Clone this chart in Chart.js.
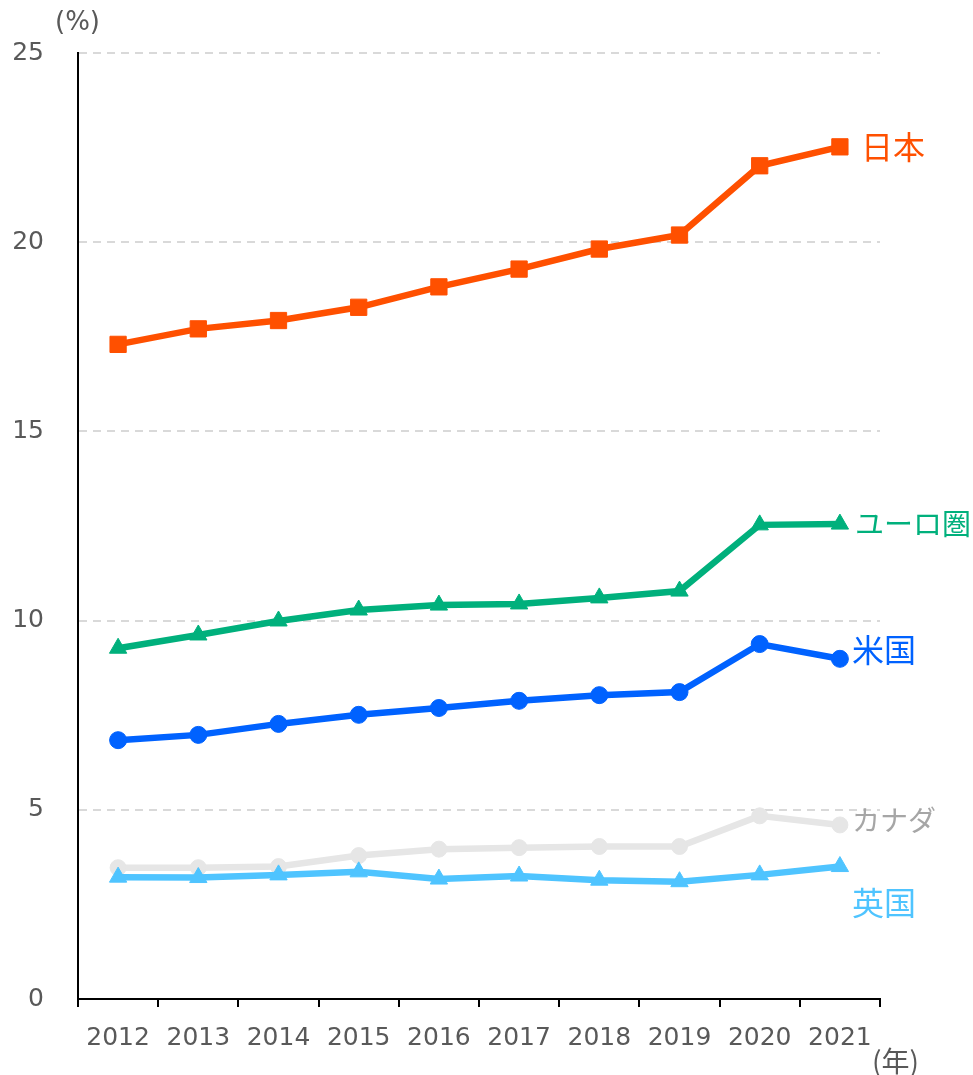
<!DOCTYPE html>
<html lang="ja">
<head>
<meta charset="utf-8">
<script src="https://cdn.jsdelivr.net/npm/chart.js@4.4.1/dist/chart.umd.min.js"></script>
<style>
  html, body { margin: 0; padding: 0; background: #fff; }
  #wrap { width: 973px; height: 1075px; position: relative; }
</style>
</head>
<body>
<div id="wrap"><canvas id="chart"></canvas></div>
<script>
// years on the x axis
const years = ['2012', '2013', '2014', '2015', '2016', '2017', '2018', '2019', '2020', '2021'];

// series values (%)
const japan  = [17.30, 17.71, 17.93, 18.28, 18.82, 19.29, 19.82, 20.19, 22.02, 22.52];
const euro   = [9.27, 9.62, 9.99, 10.28, 10.41, 10.44, 10.60, 10.78, 12.53, 12.55];
const us     = [6.84, 6.98, 7.27, 7.51, 7.69, 7.88, 8.03, 8.11, 9.38, 8.99];
const uk     = [3.22, 3.21, 3.28, 3.36, 3.17, 3.25, 3.14, 3.10, 3.28, 3.50];
const canada = [3.47, 3.47, 3.50, 3.79, 3.96, 4.00, 4.03, 4.03, 4.84, 4.60];

const seriesNames = ['日本', 'ユーロ圏', '米国', '英国', 'カナダ'];
const yTicks = [0, 5, 10, 15, 20, 25];

const TICK_FONT = '"DejaVu Sans", Verdana, sans-serif';
const CJK_FONT = '"Noto Sans CJK JP", "Noto Sans", sans-serif';

// end-of-line label placement (offset from last point) and size
const labelStyle = [
    { color: '#FF5000', dx: 21, dy: 0, size: 32 },
    { color: '#00B07C', dx: 15, dy: 0, size: 29 },
    { color: '#0062FF', dx: 12, dy: -9, size: 32 },
    { color: '#4FC4FF', dx: 12, dy: 36, size: 32 },
    { color: '#A6A6A6', dx: 12, dy: -5, size: 28 }
];

Chart.register({
    id: 'endLabels',
    afterDatasetsDraw(chart) {
        const { ctx } = chart;
        ctx.save();
        ctx.textAlign = 'left';
        ctx.textBaseline = 'middle';
        chart.data.datasets.forEach((ds, i) => {
            const meta = chart.getDatasetMeta(i);
            const pt = meta.data[meta.data.length - 1];
            const st = labelStyle[i];
            ctx.font = st.size + 'px ' + CJK_FONT;
            ctx.fillStyle = st.color;
            ctx.fillText(ds.label, pt.x + st.dx, pt.y + st.dy);
        });

        // unit captions
        ctx.fillStyle = '#595959';
        ctx.font = '26px ' + TICK_FONT;
        ctx.fillText('(%)', 55, 23);
        ctx.font = '28px ' + CJK_FONT;
        ctx.fillText('(年)', 872, 1061);
        ctx.restore();
    }
});

function lineSet(label, data, color, pointStyle, radius) {
    return {
        label,
        data,
        borderColor: color,
        backgroundColor: color,
        borderWidth: 6.5,
        pointStyle,
        pointRadius: radius,
        pointBorderWidth: 1,
        pointBackgroundColor: color,
        pointBorderColor: color,
        tension: 0
    };
}

new Chart(document.getElementById('chart'), {
    type: 'line',
    data: {
        labels: years,
        datasets: [
            lineSet(seriesNames[0], japan, '#FF5000', 'rect', 11.5),
            lineSet(seriesNames[1], euro, '#00B07C', 'triangle', 10),
            lineSet(seriesNames[2], us, '#0062FF', 'circle', 8.5),
            lineSet(seriesNames[3], uk, '#4FC4FF', 'triangle', 10),
            lineSet(seriesNames[4], canada, '#E6E6E6', 'circle', 8)
        ]
    },
    options: {
        responsive: true,
        maintainAspectRatio: false,
        animation: false,
        layout: { padding: { top: 53, right: 93, left: 0, bottom: 0 } },
        plugins: {
            legend: { display: false },
            tooltip: { enabled: false }
        },
        scales: {
            x: {
                offset: true,
                grid: {
                    offset: true,
                    drawOnChartArea: false,
                    color: '#000',
                    lineWidth: 2,
                    tickLength: 8
                },
                border: { color: '#000', width: 2 },
                ticks: {
                    color: '#595959',
                    font: { family: TICK_FONT, size: 25 },
                    padding: 16,
                    maxRotation: 0
                },
                afterFit(scale) { scale.height = 76; }
            },
            y: {
                min: 0,
                max: 25,
                afterBuildTicks(scale) { scale.ticks = yTicks.map(v => ({ value: v })); },
                grid: {
                    color: '#D9D9D9',
                    lineWidth: 2,
                    drawTicks: false
                },
                border: { color: '#000', width: 2, dash: [8, 6] },
                ticks: {
                    color: '#595959',
                    font: { family: TICK_FONT, size: 25 },
                    padding: 34
                },
                afterFit(scale) { scale.width = 78; }
            }
        }
    }
});
</script>
</body>
</html>
